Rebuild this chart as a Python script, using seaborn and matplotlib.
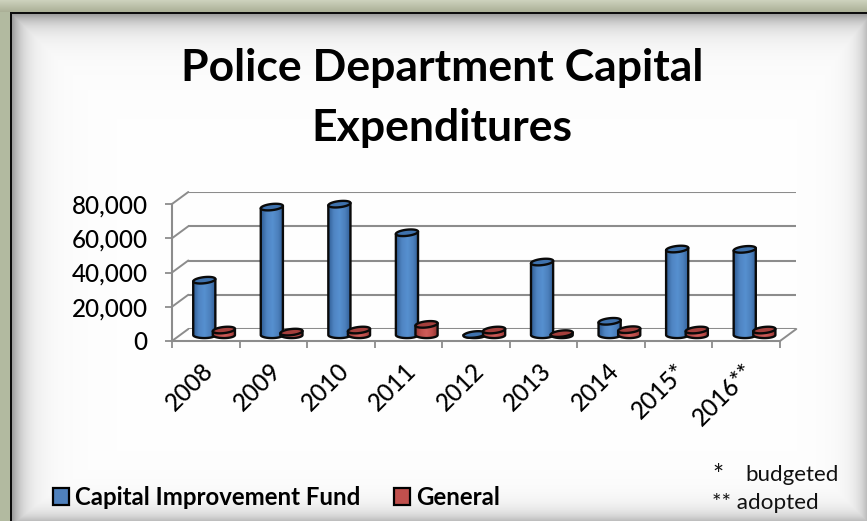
import numpy as np
import pandas as pd
import matplotlib
matplotlib.use("Agg")
import matplotlib.pyplot as plt
from matplotlib.colors import LinearSegmentedColormap
from matplotlib.patches import Polygon
from matplotlib.ticker import FuncFormatter, FixedLocator
from matplotlib.transforms import ScaledTranslation
import seaborn as sns

years = ["2008", "2009", "2010", "2011", "2012", "2013", "2014", "2015*", "2016**"]
capital_fund = [32000, 74700, 76400, 59700, 300, 42600, 8000, 50200, 50000]
general_fund = [2900, 1700, 2900, 6200, 2900, 800, 3100, 2900, 2900]
series_names = ["Capital Improvement Fund", "General"]
title_text = "Police Department Capital\nExpenditures"

W, H = 867, 521
FONT = "Lato"
GRID = "#8c8c8c"
BLUE, RED = "#4f81bd", "#c0504d"

sns.set_theme(style="white")
plt.rcParams["font.family"] = [FONT, "DejaVu Sans"]
plt.rcParams["text.color"] = "black"
plt.rcParams["xtick.labelcolor"] = "black"
plt.rcParams["ytick.labelcolor"] = "black"

fig = plt.figure(figsize=(W / 100, H / 100), dpi=100)


def box(x0, x1, ytop, ybot):
    return [x0 / W, 1 - ybot / H, (x1 - x0) / W, (ybot - ytop) / H]


# Bevelled panel behind the chart
bg = fig.add_axes([0, 0, 1, 1], zorder=0)
yy, xx = np.mgrid[0:H, 0:W]
d_lt = np.minimum(xx - 12, yy - 14).astype(float)
d_rb = np.minimum(W - xx, H - yy).astype(float)
shade = 1 - 0.34 * np.exp(-np.clip(d_lt, 0, None) / 11) - 0.04 * np.exp(-np.clip(d_lt, 0, None) / 45)
shade = np.minimum(shade, 1 - 0.24 * np.exp(-d_rb / 9) - 0.04 * np.exp(-d_rb / 30))
img = np.dstack([shade] * 3)
img[(xx < 10) | (yy < 12)] = np.array([0.70, 0.73, 0.63])
top_band = yy < 12
img[top_band] = (np.array([0.80, 0.82, 0.74])[None, :] * (1 - yy[top_band, None] / 12)
                 + np.array([0.66, 0.68, 0.58])[None, :] * (yy[top_band, None] / 12))
img[((xx >= 10) & (xx < 12) & (yy >= 12)) | ((yy >= 12) & (yy < 14) & (xx >= 10))] = 0.05
bg.imshow(img, extent=(0, W, H, 0), aspect="auto", interpolation="nearest")
bg.axis("off")

# Front plane carries the axis lines and labels
front = fig.add_axes(box(172, 780, 204, 341), zorder=2, facecolor="none")
# Back wall carries the gridlines
wall = fig.add_axes(box(188.3, 796.3, 192, 329), zorder=1, facecolor="none")
# Middle plane carries the columns
mid = fig.add_axes(box(180.3, 788.3, 198, 335), zorder=3, facecolor="none")

for a in (front, wall, mid):
    a.set_xlim(-0.5, 8.5)
    a.set_ylim(0, 80000)

ticks = np.arange(0, 80001, 20000)
wall.set_yticks(ticks)
wall.set_xticks([])
wall.set_yticklabels([])
wall.tick_params(left=False)
wall.grid(axis="y", color=GRID, lw=1.5)
for s in wall.spines.values():
    s.set_visible(False)

front.set_yticks(ticks)
front.yaxis.set_major_formatter(FuncFormatter(lambda v, _: f"{int(v):,}"))
front.set_xticks(np.arange(len(years)))
front.set_xticklabels(years, rotation=45, ha="right", va="center", rotation_mode="anchor")
front.xaxis.set_minor_locator(FixedLocator(np.arange(-0.5, 9)))
front.tick_params(axis="y", length=5, width=1.3, color=GRID, pad=12.5, labelsize=17.4, left=True)
front.tick_params(axis="x", which="major", length=0, pad=19, labelsize=17.4)
front.tick_params(axis="x", which="minor", length=5, width=1.3, color=GRID, bottom=True)
nudge = ScaledTranslation(4 / 100, 0, fig.dpi_scale_trans)
for label in front.get_xticklabels():
    label.set_transform(label.get_transform() + nudge)
for label in front.get_xticklabels() + front.get_yticklabels():
    label.set_fontweight("medium")
for name, s in front.spines.items():
    s.set_visible(name in ("left", "bottom"))
    s.set_color(GRID)
    s.set_linewidth(1.5)

# Receding edges that join the front plane to the back wall
depth = (wall.transData.transform((0, 0)) - front.transData.transform((0, 0)))
for v in ticks:
    p = front.transData.transform((-0.5, v))
    fig.add_artist(plt.Line2D([p[0] / W, (p[0] + depth[0]) / W], [p[1] / H, (p[1] + depth[1]) / H],
                              color=GRID, lw=1.4, zorder=1.5))
p = front.transData.transform((8.5, 0))
fig.add_artist(plt.Line2D([p[0] / W, (p[0] + depth[0]) / W], [p[1] / H, (p[1] + depth[1]) / H],
                          color=GRID, lw=1.4, zorder=1.5))

# Columns
table = pd.DataFrame({
    "year": years * 2,
    "amount": capital_fund + general_fund,
    "fund": [series_names[0]] * len(years) + [series_names[1]] * len(years),
})
sns.barplot(data=table, x="year", y="amount", hue="fund", order=years, hue_order=series_names,
            palette=[BLUE, RED], width=0.58, gap=-0.13, saturation=1, ax=mid, legend=False)
mid.set_xlim(-0.5, 8.5)
mid.set_ylim(0, 80000)
mid.axis("off")

ramps = {
    0: LinearSegmentedColormap.from_list("c0", ["#2f5c94", "#4f84c2", "#5690d0", "#4c80bc", "#2f5c94"]),
    1: LinearSegmentedColormap.from_list("c1", ["#8f3330", "#c0504d", "#cf5d5a", "#bd4e4b", "#8f3330"]),
}
caps = {0: "#3f72ad", 1: "#a53f3c"}
EDGE = "#0a0a0a"
LW = 1.7
CAP_B = 1800  # half height of a column end, in axis units
TILT = 700    # rise of a column top towards its right side
ramp = np.linspace(0, 1, 64)[None, :]
angles = np.linspace(0, 2 * np.pi, 80)

for s, container in enumerate(mid.containers):
    for i, bar in enumerate(container):
        x, w, h = bar.get_x(), bar.get_width(), bar.get_height()
        z = 5 + 2 * i + s
        bar.set_visible(False)
        cx = x + w / 2
        # column body: lower rim plus both sides, shaded across its width
        lower = np.linspace(np.pi, 2 * np.pi, 40)
        outline = np.column_stack([cx + w / 2 * np.cos(lower), CAP_B * np.sin(lower)])
        outline = np.vstack([outline, [[x + w, h + TILT], [x, max(h - TILT, 0)]]])
        im = mid.imshow(ramp, extent=(x, x + w, -CAP_B, h + TILT), aspect="auto", cmap=ramps[s], zorder=z)
        body = Polygon(outline, closed=True, fc="none", ec=EDGE, lw=LW, zorder=z + 0.1, clip_on=False,
                       joinstyle="round")
        mid.add_patch(body)
        im.set_clip_box(fig.bbox)
        im.set_clip_path(body)
        # column top, tilted slightly
        top = np.column_stack([cx + w / 2 * np.cos(angles),
                               h + CAP_B * np.sin(angles) + TILT * np.cos(angles)])
        mid.add_patch(Polygon(top, closed=True, fc=caps[s], ec=EDGE, lw=LW, zorder=z + 0.2, clip_on=False))
mid.set_xlim(-0.5, 8.5)
mid.set_ylim(0, 80000)

# Title, legend and footnotes
fig.text(442 / W, 1 - 98 / H, title_text, ha="center", va="center", fontsize=32, fontweight="bold",
         color="black", linespacing=1.61, zorder=5)

handles = [plt.Rectangle((0, 0), 1, 1, fc=c, ec="black", lw=1.6) for c in (BLUE, RED)]
fig.legend(handles, series_names, loc="lower left", bbox_to_anchor=(53 / W, 1 - 509 / H), ncol=2,
           frameon=False, prop={"family": FONT, "weight": "bold", "size": 17.3},
           handlelength=0.66, handleheight=0.66, handletextpad=0.25, columnspacing=1.42,
           borderpad=0, borderaxespad=0)

fig.text(712 / W, 1 - 476 / H, "*", fontsize=19, va="center", color="#111111")
fig.text(745 / W, 1 - 475 / H, "budgeted", fontsize=16, va="center", color="#111111")
fig.text(712 / W, 1 - 503 / H, "** adopted", fontsize=16.2, va="center", color="#111111")

fig.savefig("out.png", dpi=100)
